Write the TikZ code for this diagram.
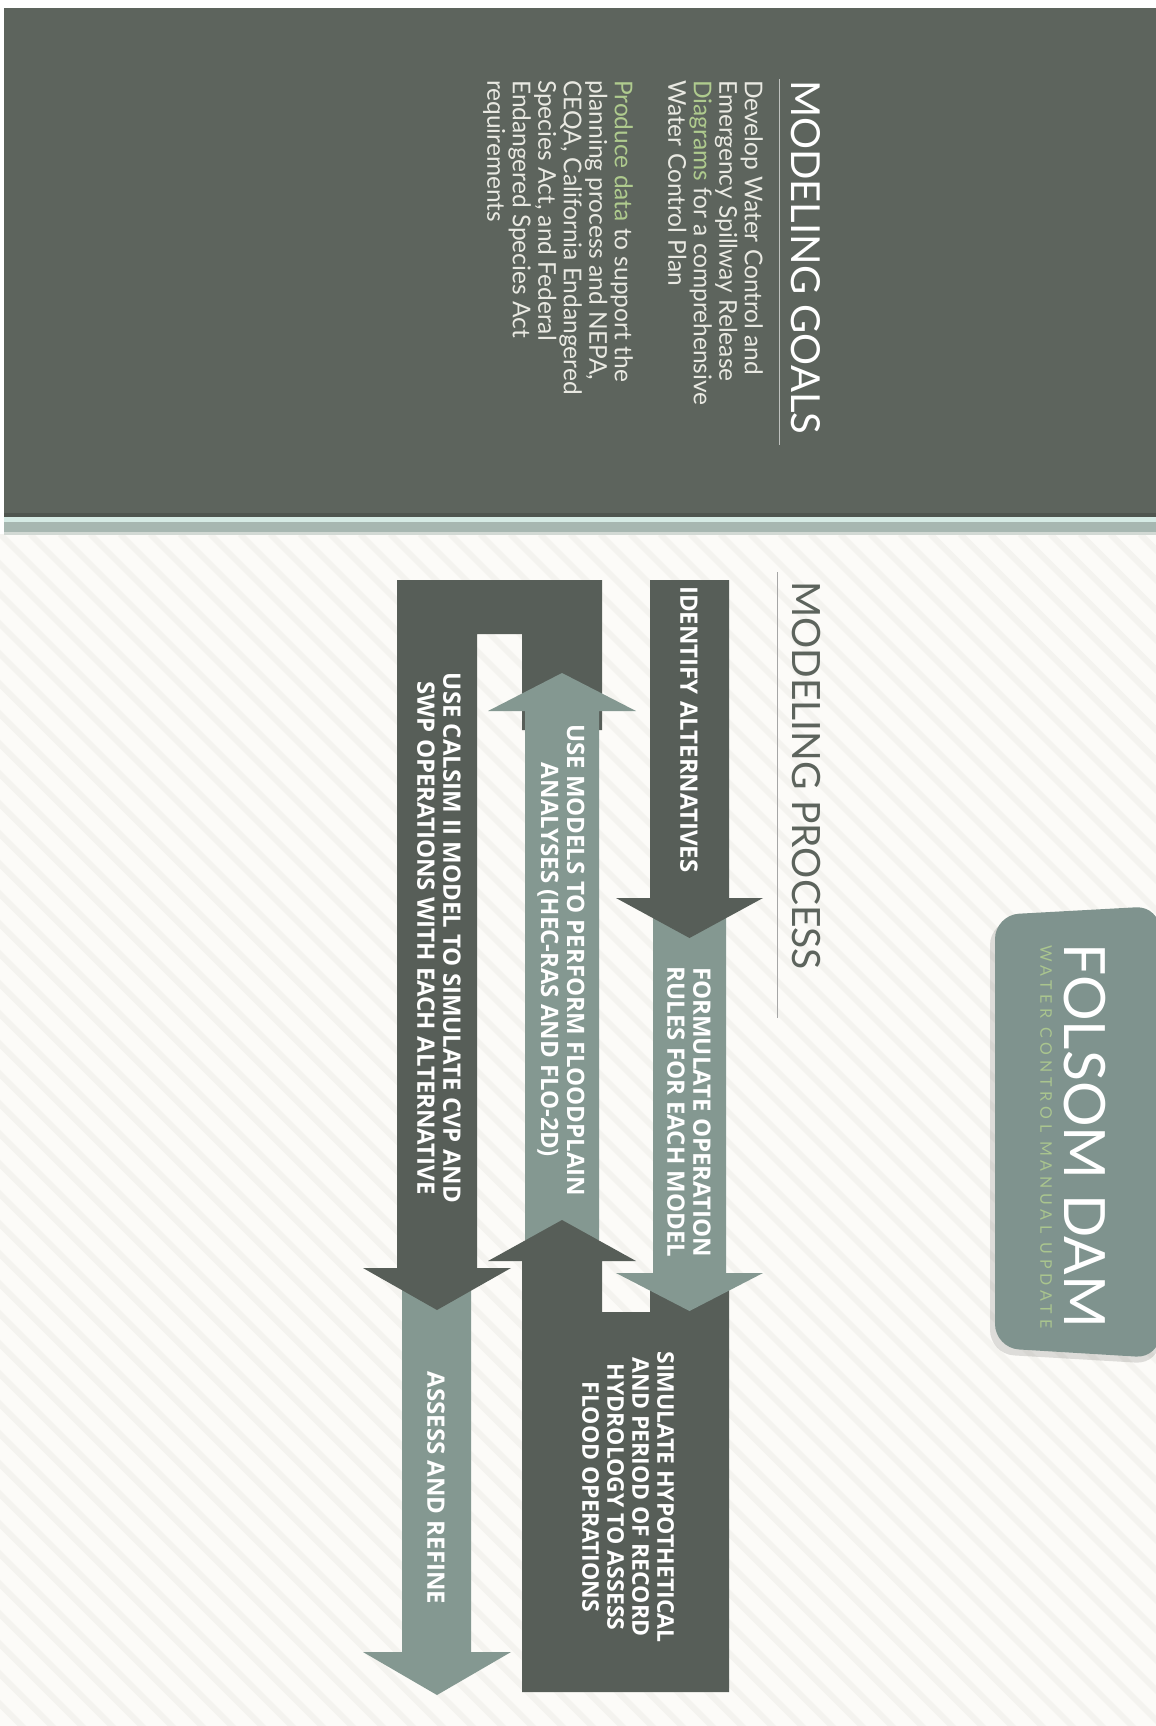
\documentclass[tikz,border=0pt]{standalone}
\usepackage{fontspec}
\setmainfont{Lato}
\newfontfamily\boxfont{Open Sans}
\newfontfamily\subfont[LetterSpace=30]{Lato}
\definecolor{panelgrey}{HTML}{5D645D}
\definecolor{darkstep}{HTML}{575E58}
\definecolor{lightstep}{HTML}{849891}
\definecolor{tabgreen}{HTML}{7F938E}
\definecolor{paper}{HTML}{FCFBF8}
\definecolor{stripe}{HTML}{F4F3EF}
\definecolor{mint}{HTML}{D6EBE5}
\definecolor{sepgrey}{HTML}{A7B7B1}
\definecolor{leafgreen}{HTML}{AFCB8E}
\definecolor{softwhite}{HTML}{E9E9E2}

\begin{document}
\begin{tikzpicture}[x=1pt,y=-1pt,
  darkarrow/.style={fill=darkstep},
  lightarrow/.style={fill=lightstep},
  steplabel/.style={rotate=-90, text=white!95!paper, align=center, inner sep=0pt,
    font=\boxfont\bfseries\fontsize{24}{26}\selectfont},
  heading/.style={rotate=-90, anchor=west, inner sep=0pt,
    font=\fontsize{40}{44}\selectfont}]
  \useasboundingbox (0,0) rectangle (1156,1726);
  \fill[white] (0,0) rectangle (1156,1726);
  \fill[paper] (0,534) rectangle (1156,1726);
  \begin{scope}
    \clip (0,534) rectangle (1156,1726);
    \foreach \s in {-1200,-1170,...,1170}
      \draw[stripe, line width=6pt] (\s,534) -- ++(1200,1200);
  \end{scope}

  \fill[panelgrey] (4,8) rectangle (1156,517);
  \fill[panelgrey!85!black] (4,513) rectangle (1156,517);
  \fill[mint] (4,517) rectangle (1156,522);
  \fill[sepgrey] (4,522) rectangle (1156,532);
  \fill[sepgrey!50!paper] (4,532) rectangle (1156,535);

  \node[heading, text=white] (goals) at (806,80) {MODELING GOALS};
  \draw[white!60!panelgrey, line width=1pt] (779,79) -- (779,445);
  \node[rotate=-90, anchor=north west, align=left, inner sep=0pt, text=softwhite,
    font=\fontsize{24.5}{25.5}\selectfont] (goaltext) at (763,80)
    {Develop Water Control and\\
     Emergency Spillway Release\\
     \textcolor{leafgreen}{Diagrams} for a comprehensive\\
     Water Control Plan\\[28pt]
     \textcolor{leafgreen}{Produce data} to support the\\
     planning process and NEPA,\\
     CEQA, California Endangered\\
     Species Act, and Federal\\
     Endangered Species Act\\
     requirements};

  \node[heading, text=panelgrey, font=\fontsize{39}{44}\selectfont] (process) at (806,581) {MODELING PROCESS};
  \draw[black!35, line width=1pt] (777,572) -- (777,1018);

  \fill[black, opacity=0.12, rounded corners=24pt] (1160,912) -- (990,921) -- (990,1354) -- (1160,1364) -- cycle;
  \fill[tabgreen, rounded corners=24pt] (1160,906) -- (995,915) -- (995,1348) -- (1160,1358) -- cycle;
  \node[rotate=-90, anchor=west, inner sep=0pt, text=white,
    font=\fontsize{57}{60}\selectfont] (folsom) at (1085,943) {FOLSOM DAM};
  \node[rotate=-90, anchor=west, inner sep=0pt, text=leafgreen!90!tabgreen,
    font=\subfont\fontsize{16}{17}\selectfont] (update) at (1046,945) {WATER CONTROL MANUAL UPDATE};

  \fill[lightarrow] (402,1262) -- (471,1262) -- (471,1652) -- (511,1652) -- (437,1695)
    -- (363,1652) -- (402,1652) -- cycle;
  \fill[darkarrow] (397,580) -- (602,580) -- (602,730) -- (522,730) -- (522,634)
    -- (477,634) -- (477,1268) -- (511,1268) -- (437,1310) -- (363,1268) -- (397,1268) -- cycle;
  \fill[lightarrow] (525,1240) -- (525,711) -- (488,711) -- (562,673) -- (636,711)
    -- (599,711) -- (599,1240) -- cycle;
  \fill[darkarrow] (522,1692) -- (729,1692) -- (729,1285) -- (650,1285) -- (650,1312)
    -- (602,1312) -- (602,1261) -- (636,1261) -- (562,1220) -- (488,1261) -- (522,1261) -- cycle;
  \fill[lightarrow] (653,910) -- (726,910) -- (726,1273) -- (763,1273) -- (689.5,1311)
    -- (616,1273) -- (653,1273) -- cycle;
  \fill[darkarrow] (650,580) -- (729,580) -- (729,898) -- (763,898) -- (689.5,938)
    -- (616,898) -- (650,898) -- cycle;

  \node[steplabel, anchor=west] (identify) at (689,586) {IDENTIFY ALTERNATIVES};
  \node[steplabel] (formulate) at (689,1112) {FORMULATE OPERATION\\RULES FOR EACH MODEL};
  \node[steplabel] (usemodels) at (561,960) {USE MODELS TO PERFORM FLOODPLAIN\\ANALYSES (HEC-RAS AND FLO-2D)};
  \node[steplabel] (calsim) at (439,938) {USE CALSIM II MODEL TO SIMULATE CVP AND\\SWP OPERATIONS WITH EACH ALTERNATIVE};
  \node[steplabel, font=\boxfont\bfseries\fontsize{23}{25}\selectfont] (simulate) at (628,1497) {SIMULATE HYPOTHETICAL\\AND PERIOD OF RECORD\\HYDROLOGY TO ASSESS\\FLOOD OPERATIONS};
  \node[steplabel] (assess) at (436,1488) {ASSESS AND REFINE};
\end{tikzpicture}
\end{document}
